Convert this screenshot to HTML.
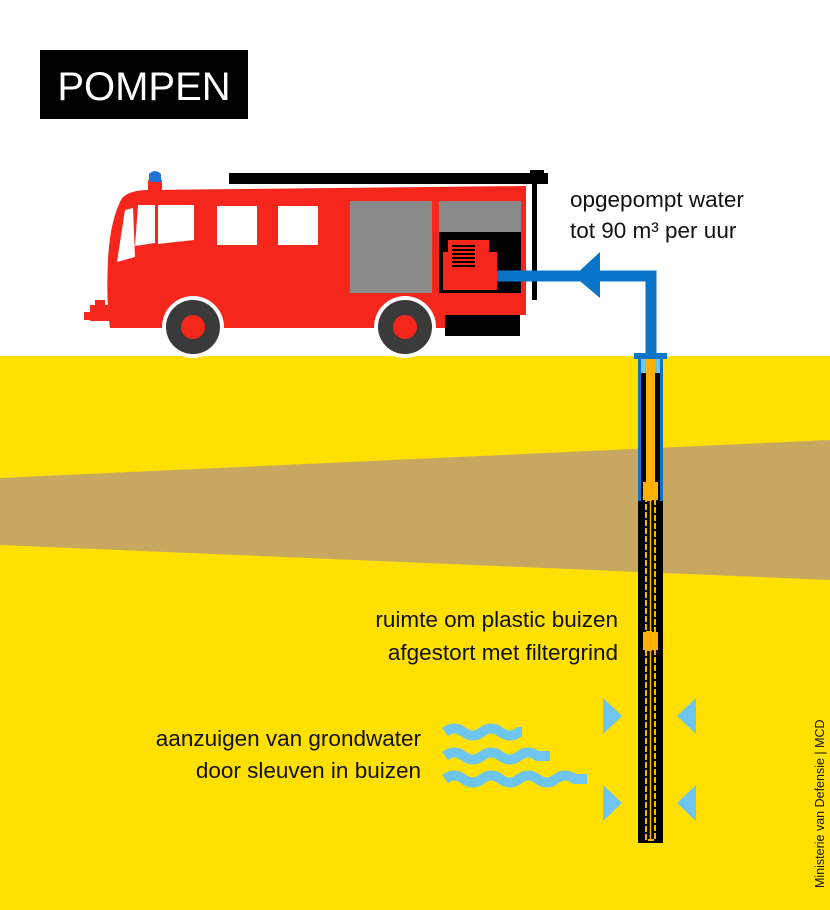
<!DOCTYPE html>
<html><head><meta charset="utf-8"><style>
html,body{margin:0;padding:0;background:#fff}
svg{display:block}
text{font-family:"Liberation Sans",sans-serif}
</style></head><body>
<svg width="830" height="910" viewBox="0 0 830 910" xmlns="http://www.w3.org/2000/svg">
<rect width="830" height="910" fill="#fff"/>
<!-- ground -->
<rect x="0" y="356" width="830" height="554" fill="#ffe000"/>
<polygon points="0,478 830,440 830,580 0,545" fill="#c8a860"/>
<!-- title -->
<rect x="40" y="50" width="208" height="69" fill="#000"/>
<text x="144" y="100" font-size="40" fill="#fff" text-anchor="middle">POMPEN</text>
<!-- truck -->
<rect x="229" y="173" width="319" height="11" fill="#000"/>
<rect x="530" y="170" width="14" height="6" fill="#000"/>
<rect x="532" y="184" width="5" height="116" fill="#000"/>
<rect x="445" y="312" width="75" height="24" fill="#000"/>
<path d="M148,190 L526,186 L526,315 L445,315 L445,328 L110,328 Q106,300 108,260 Q110,220 122,198 Q130,190 148,190 Z" fill="#f5261c"/>
<rect x="148" y="180" width="14" height="12" fill="#f5261c"/>
<path d="M149,182 L149,174 Q155,168 161,174 L161,182 Z" fill="#1f75d6"/>
<rect x="90" y="305" width="22" height="16" fill="#f5261c"/>
<rect x="84" y="312" width="10" height="8" fill="#f5261c"/>
<rect x="95" y="300" width="10" height="8" fill="#f5261c"/>
<path d="M125,210 L133,208 L135,257 L117,262 Z" fill="#fff"/>
<path d="M138,205 L155,205 L155,243 L135,246 Z" fill="#fff"/>
<path d="M158,205 L194,205 L194,240 L158,244 Z" fill="#fff"/>
<rect x="217" y="206" width="40" height="39" fill="#fff"/>
<rect x="278" y="206" width="40" height="39" fill="#fff"/>
<rect x="350" y="201" width="82" height="92" fill="#8a8a8a"/>
<rect x="439" y="201" width="82" height="31" fill="#8a8a8a"/>
<rect x="439" y="232" width="82" height="61" fill="#000"/>
<path d="M443,252 L448,252 L448,240 L489,240 L489,252 L497,252 L497,290 L443,290 Z" fill="#f5261c"/>
<g fill="#000"><rect x="452" y="245" width="23" height="2"/><rect x="452" y="249" width="23" height="2"/><rect x="452" y="253" width="23" height="2"/><rect x="452" y="257" width="23" height="2"/><rect x="452" y="261" width="23" height="2"/><rect x="452" y="265" width="23" height="2"/></g>
<circle cx="193" cy="327" r="31" fill="#fff"/>
<circle cx="193" cy="327" r="27" fill="#3a3a3a"/>
<circle cx="193" cy="327" r="12" fill="#f5261c"/>
<circle cx="405" cy="327" r="31" fill="#fff"/>
<circle cx="405" cy="327" r="27" fill="#3a3a3a"/>
<circle cx="405" cy="327" r="12" fill="#f5261c"/>
<!-- hose -->
<path d="M497,276 L651,276 L651,354" fill="none" stroke="#0a74c8" stroke-width="11"/>
<polygon points="574,276 600,252 600,298" fill="#0a74c8"/>
<text x="570" y="207" font-size="22.5" fill="#111">opgepompt water</text>
<text x="570" y="238" font-size="22.5" fill="#111">tot 90 m³ per uur</text>
<!-- well -->
<rect x="634" y="353" width="33" height="6" fill="#0a74c8"/>
<rect x="638" y="359" width="25" height="142" fill="#0a74c8"/>
<rect x="641" y="359" width="19" height="14" fill="#6ec6ee"/>
<rect x="641" y="373" width="19" height="128" fill="#000"/>
<rect x="638" y="501" width="25" height="342" fill="#000"/>
<rect x="646" y="359" width="9" height="125" fill="#ffb000"/>
<rect x="643" y="482" width="15" height="18" fill="#ffb000"/>
<rect x="643" y="632" width="15" height="18" fill="#ffb000"/>
<rect x="646" y="500" width="9" height="132" fill="none" stroke="#ffb000" stroke-width="2" stroke-dasharray="6,2"/>
<rect x="646" y="650" width="9" height="190" fill="none" stroke="#ffb000" stroke-width="2" stroke-dasharray="6,2"/>
<line x1="650.5" y1="500" x2="650.5" y2="840" stroke="#ffb000" stroke-width="1.5"/>
<!-- triangles -->
<g fill="#6ec6ee">
<polygon points="603,698 622,716 603,734"/><polygon points="696,698 677,716 696,734"/>
<polygon points="603,785 622,803 603,821"/><polygon points="696,785 677,803 696,821"/>
</g>
<!-- waves -->
<g fill="none" stroke="#6ec6ee" stroke-width="10">
<path d="M445,732 q9,-7 18.5,0 t18.5,0 t18.5,0 t18.5,0 L522,732"/>
<path d="M445,756 q9,-7 18.5,0 t18.5,0 t18.5,0 t18.5,0 t18.5,0 L550,756"/>
<path d="M445,779 q9,-7 18.5,0 t18.5,0 t18.5,0 t18.5,0 t18.5,0 t18.5,0 t18.5,0 L587,779"/>
</g>
<g font-size="22.5" fill="#111" text-anchor="end">
<text x="618" y="627">ruimte om plastic buizen</text>
<text x="618" y="660">afgestort met filtergrind</text>
<text x="421" y="746">aanzuigen van grondwater</text>
<text x="421" y="778">door sleuven in buizen</text>
</g>
<text transform="translate(824,888) rotate(-90)" font-size="12.5" fill="#111">Ministerie van Defensie | MCD</text>
</svg>
</body></html>
